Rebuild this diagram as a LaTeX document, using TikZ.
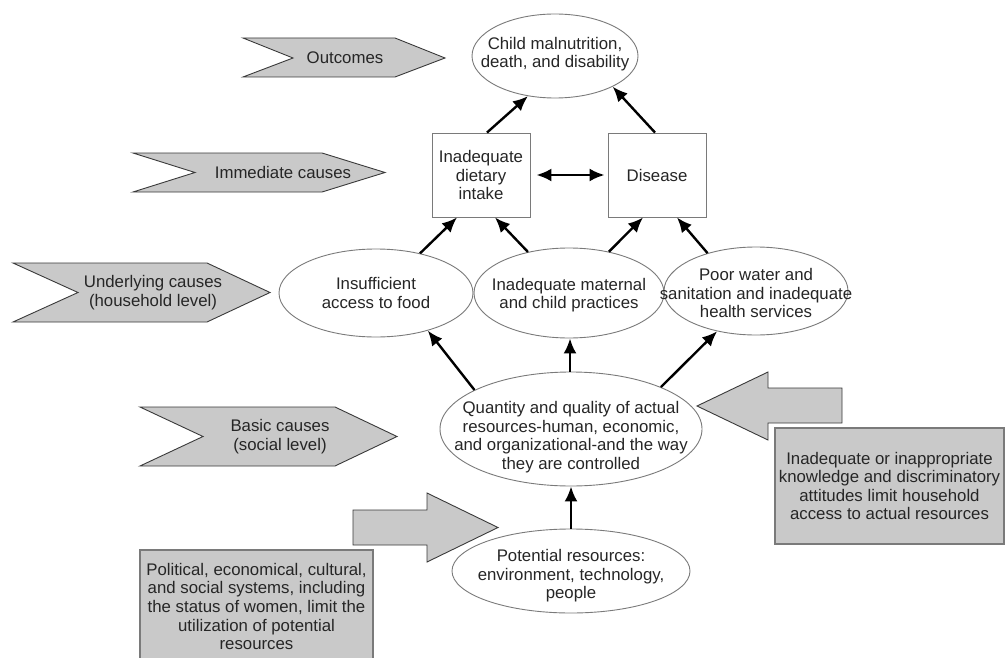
\documentclass[tikz,border=0pt]{standalone}
\usepackage{fontspec}
\setmainfont{Liberation Sans}
\usetikzlibrary{shapes.geometric,arrows.meta,calc}
\definecolor{fillg}{HTML}{C9C9C9}
\definecolor{lineg}{HTML}{7A7A7A}
\definecolor{edgeg}{HTML}{3A3A3A}
\definecolor{txt}{HTML}{262626}
\begin{document}
\begin{tikzpicture}[x=1pt,y=-1pt,
  every node/.style={font=\fontsize{16.8}{18.6}\selectfont, text=txt, align=center},
  ell/.style={ellipse, draw=lineg, line width=0.9pt, inner sep=0pt},
  box/.style={rectangle, draw=lineg, line width=0.9pt, inner sep=0pt, fill=white},
  arr/.style={-{Latex[length=15pt,width=13pt]}, line width=2.4pt, black},
  dblarr/.style={{Latex[length=15pt,width=13pt]}-{Latex[length=15pt,width=13pt]}, line width=2.4pt, black},
  chev/.style={fill=fillg, draw=edgeg, line width=0.9pt, line join=miter},
  gbox/.style={rectangle, fill=fillg, draw=lineg, line width=1.1pt, inner sep=0pt},
  bigarr/.style={fill=fillg, draw=edgeg, line width=0.9pt, line join=miter}
]
\useasboundingbox[fill=white] (0,0) rectangle (1006,658);

% level chevrons
\draw[chev] (243,38) -- (395,38) -- (445,58) -- (395,77) -- (243,77) -- (293,58) -- cycle;
\node (lout) at (345,58) {Outcomes};
\draw[chev] (133,153) -- (322,153) -- (385,172.5) -- (322,192) -- (133,192) -- (195,172.5) -- cycle;
\node (limm) at (283,172.5) {Immediate causes};
\draw[chev] (13,263) -- (207,263) -- (270,292.5) -- (207,322) -- (13,322) -- (78,292.5) -- cycle;
\node (lund) at (153,292.5) {Underlying causes\\(household level)};
\draw[chev] (140,407) -- (335,407) -- (397,436.5) -- (335,466) -- (140,466) -- (203,436.5) -- cycle;
\node (lbas) at (280,436.5) {Basic causes\\(social level)};

% main nodes (ellipse outlines, texts set separately so shapes keep their size)
\node[ell, minimum width=166pt, minimum height=84pt] (top) at (555,56) {};
\node (toptxt) at (555,54) {Child malnutrition,\\death, and disability};
\node[box, minimum width=98pt, minimum height=84pt] (diet) at (481,175) {Inadequate\\dietary\\intake};
\node[box, minimum width=98pt, minimum height=84pt] (dis) at (657,175) {Disease};
\node[ell, minimum width=194pt, minimum height=88pt] (insuf) at (376,293) {};
\node (insuftxt) at (376,293) {Insufficient\\access to food};
\node[ell, minimum width=190pt, minimum height=90pt] (mat) at (569,293) {};
\node (mattxt) at (569,295) {Inadequate maternal\\and child practices};
\node[ell, minimum width=184pt, minimum height=88pt] (poor) at (756,291) {};
\node (poortxt) at (756,293) {Poor water and\\sanitation and inadequate\\health services};
\node[ell, minimum width=262pt, minimum height=114pt] (quant) at (571,429) {};
\node (quanttxt) at (571,437) {Quantity and quality of actual\\resources-human, economic,\\and organizational-and the way\\they are controlled};
\node[ell, minimum width=238pt, minimum height=84pt] (pot) at (571,571) {};
\node (pottxt) at (571,576) {Potential resources:\\environment, technology,\\people};

% big gray arrows
\draw[bigarr] (353,510) -- (427,510) -- (427,493) -- (498,527.5) -- (427,562) -- (427,545) -- (353,545) -- cycle;
\draw[bigarr] (842,388) -- (768,388) -- (768,372) -- (697,406) -- (768,440) -- (768,423) -- (842,423) -- cycle;

% gray text boxes
\node[gbox, minimum width=229pt, minimum height=116pt] (knowbox) at (889.5,486) {Inadequate or inappropriate\\knowledge and discriminatory\\attitudes limit household\\access to actual resources};
\node[gbox, minimum width=233pt, minimum height=113pt] (polbox) at (256.5,606.5) {Political, economical, cultural,\\and social systems, including\\the status of women, limit the\\utilization of potential\\resources};

% connectors
\draw[arr] ([xshift=6pt]diet.north) -- (top.236);
\draw[arr] ([xshift=-2pt]dis.north) -- (top.-28);
\draw[dblarr] ([xshift=6pt]diet.east) -- ([xshift=-3pt]dis.west);
\draw[arr] (insuf.42) -- ([xshift=-24pt]diet.south);
\draw[arr] (mat.135) -- ([xshift=14pt]diet.south);
\draw[arr] (mat.46) -- ([xshift=-14pt]dis.south);
\draw[arr] (poor.142) -- ([xshift=20pt]dis.south);
\draw[arr] (quant.158) -- (insuf.-36);
\draw[arr] ([xshift=-1pt]quant.north) -- ([xshift=1pt]mat.south);
\draw[arr] (quant.25) -- (poor.226);
\draw[arr] (pot.north) -- (quant.south);
\end{tikzpicture}
\end{document}
